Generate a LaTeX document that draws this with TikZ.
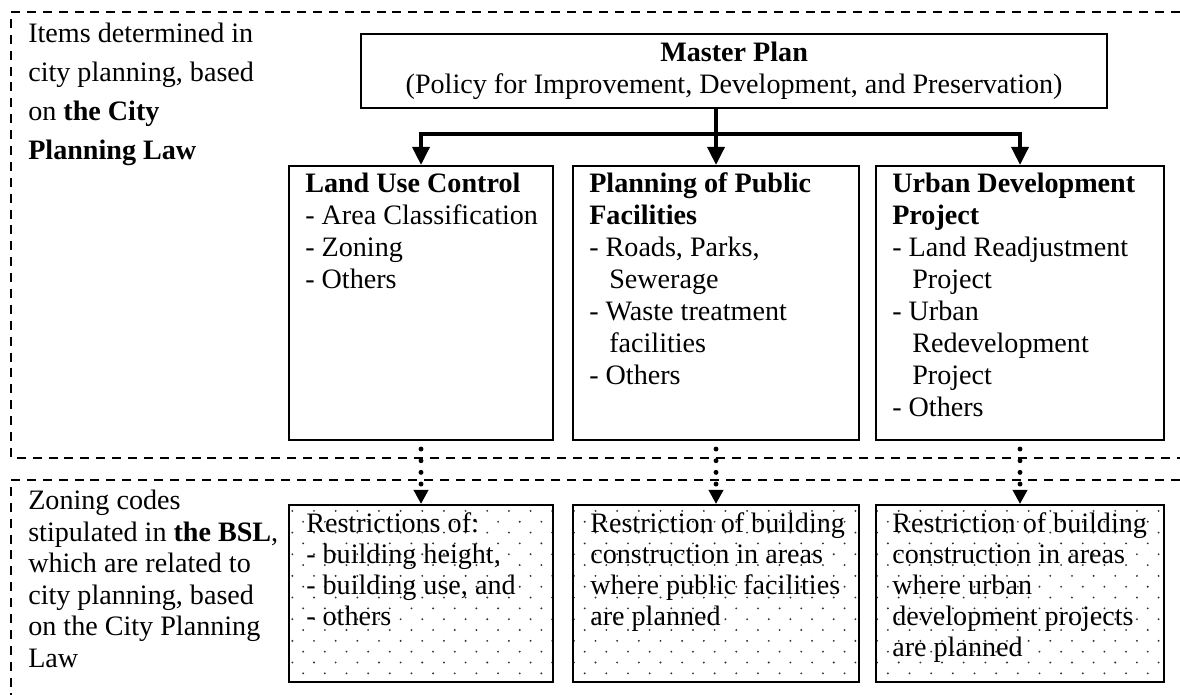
\documentclass[tikz,border=0pt]{standalone}
\usepackage{fontspec}
\setmainfont{Liberation Serif}
\usetikzlibrary{calc,arrows.meta,patterns}
\pgfdeclarepatternformonly{sparse dots}{\pgfqpoint{-1pt}{-1pt}}{\pgfqpoint{9pt}{9pt}}{\pgfqpoint{15.4pt}{15.4pt}}{
	\pgfpathcircle{\pgfqpoint{0pt}{0pt}}{0.75pt}
	\pgfpathcircle{\pgfqpoint{7.7pt}{7.7pt}}{0.75pt}
	\pgfusepath{fill}
}
\newcommand{\indt}{\hspace*{0.5cm}}
\newcommand{\lines}[1]{\begin{tabular}[t]{@{}l@{}}#1\end{tabular}}

\begin{document}
\begin{tikzpicture}[x=0.025cm, y=-0.025cm,
		box/.style={draw, line width=1.4pt, rectangle, anchor=north west, inner sep=0pt},
		dotbox/.style={box, pattern=sparse dots, pattern color=black!80},
		txt/.style={anchor=base west, inner sep=0pt, font=\fontsize{20}{22.7}\selectfont},
		flow/.style={line width=2.8pt, -{Triangle[width=0.42cm, length=0.45cm]}},
		dotflow/.style={line width=3.5pt, line cap=round, dash pattern=on 0pt off 8.3pt, shorten <=0.2cm, -{Triangle[width=0.35cm, length=0.35cm]}},
		zone/.style={line width=1.4pt, dash pattern=on 6.4pt off 4.9pt}]
			%%%%% START %%%%%
			
			\useasboundingbox (0, 0) rectangle (1180, 695);
			
			\draw[zone] (1180, 12) -- (11, 12) -- (11, 458) -- (1180, 458);
			\draw[zone] (1180, 480) -- (11, 480) -- (11, 695);
			
			\node[txt, font=\fontsize{20}{27.7}\selectfont] (cpl) at (28, 43) {\lines{Items determined in\\city planning, based\\on \textbf{the City}\\\textbf{Planning Law}}};
			\node[txt, font=\fontsize{20}{22.4}\selectfont] (bsl) at (28, 510) {\lines{Zoning codes\\stipulated in \textbf{the BSL},\\which are related to\\city planning, based\\on the City Planning\\Law}};
			
			\node[box, minimum width=18.65cm, minimum height=1.85cm, align=center, font=\fontsize{20}{22.7}\selectfont] (mp) at (360, 33) {\textbf{Master Plan}\\(Policy for Improvement, Development, and Preservation)};
			
			\node[box, minimum width=6.6cm, minimum height=6.85cm] (luc) at (288, 165) {};
			\node[box, minimum width=7.15cm, minimum height=6.85cm] (ppf) at (572, 165) {};
			\node[box, minimum width=7.2cm, minimum height=6.85cm] (udp) at (875, 165) {};
			
			\node[dotbox, minimum width=6.6cm, minimum height=4.425cm] (rluc) at (288, 504) {};
			\node[dotbox, minimum width=7.15cm, minimum height=4.425cm] (rppf) at (572, 504) {};
			\node[dotbox, minimum width=7.2cm, minimum height=4.425cm] (rudp) at (875, 504) {};
			
			\node[txt] (luct) at ($(luc.north west)+(17, 28)$) {\lines{\textbf{Land Use Control}\\- Area Classification\\- Zoning\\- Others}};
			\node[txt] (ppft) at ($(ppf.north west)+(17, 28)$) {\lines{\textbf{Planning of Public}\\\textbf{Facilities}\\- Roads, Parks,\\\indt Sewerage\\- Waste treatment\\\indt facilities\\- Others}};
			\node[txt] (udpt) at ($(udp.north west)+(17, 28)$) {\lines{\textbf{Urban Development}\\\textbf{Project}\\- Land Readjustment\\\indt Project\\- Urban\\\indt Redevelopment\\\indt Project\\- Others}};
			
			\node[txt, font=\fontsize{20}{22}\selectfont] (rluct) at ($(rluc.north west)+(18, 29)$) {\lines{Restrictions of:\\- building height,\\- building use, and\\- others}};
			\node[txt, font=\fontsize{20}{22}\selectfont] (rppft) at ($(rppf.north west)+(18, 29)$) {\lines{Restriction of building\\construction in areas\\where public facilities\\are planned}};
			\node[txt, font=\fontsize{20}{22}\selectfont] (rudpt) at ($(rudp.north west)+(17, 29)$) {\lines{Restriction of building\\construction in areas\\where urban\\development projects\\are planned}};
			
			% arrows from the master plan
			\coordinate (stem) at (ppf.north |- mp.south);
			\coordinate (split) at ($(stem)+(0, 25)$);
			\draw[flow] (stem) -- (ppf.north);
			\draw[flow] (split) -| (luc.north);
			\draw[flow] (split) -| (udp.north);
			
			% BSL links
			\draw[dotflow] (luc.south) -- (rluc.north);
			\draw[dotflow] (ppf.south) -- (rppf.north);
			\draw[dotflow] (udp.south) -- (rudp.north);
			
			%%%%% END %%%%%
		\end{tikzpicture}
\end{document}
